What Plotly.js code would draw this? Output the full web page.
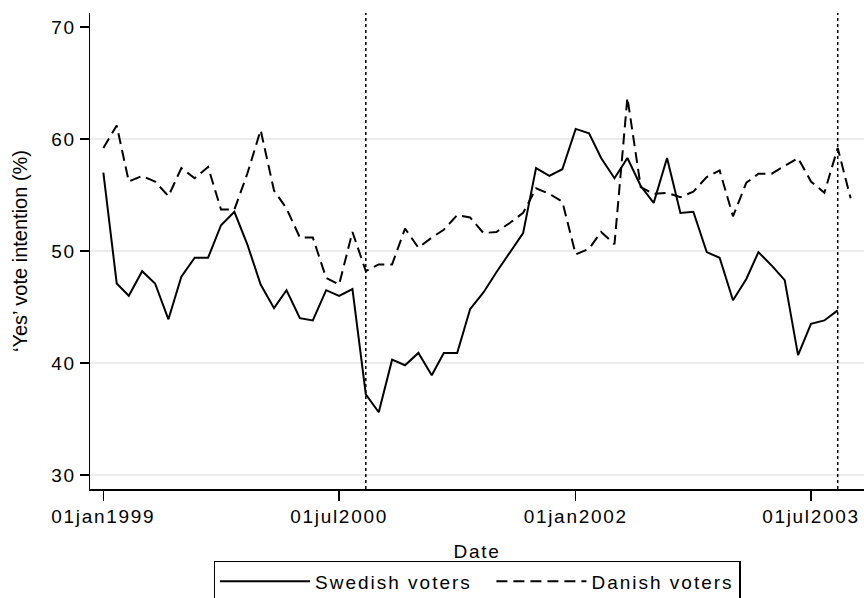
<!DOCTYPE html>
<html><head><meta charset="utf-8">
<script src="https://cdn.plot.ly/plotly-3.0.1.min.js"></script>
<style>
html,body{margin:0;padding:0;background:#fff;}
.xtick text, .ytick text, .xtitle { letter-spacing: 1.7px; }
.legendtext { letter-spacing: 2px; }
</style>
</head><body><div id="chart" style="width:864px;height:598px;"></div>
<script>
const months = [
 "1999-01-01","1999-02-01","1999-03-01","1999-04-01","1999-05-01","1999-06-01","1999-07-01","1999-08-01","1999-09-01","1999-10-01","1999-11-01","1999-12-01",
 "2000-01-01","2000-02-01","2000-03-01","2000-04-01","2000-05-01","2000-06-01","2000-07-01","2000-08-01","2000-09-01","2000-10-01","2000-11-01","2000-12-01",
 "2001-01-01","2001-02-01","2001-03-01","2001-04-01","2001-05-01","2001-06-01","2001-07-01","2001-08-01","2001-09-01","2001-10-01","2001-11-01","2001-12-01",
 "2002-01-01","2002-02-01","2002-03-01","2002-04-01","2002-05-01","2002-06-01","2002-07-01","2002-08-01","2002-09-01","2002-10-01","2002-11-01","2002-12-01",
 "2003-01-01","2003-02-01","2003-03-01","2003-04-01","2003-05-01","2003-06-01","2003-07-01","2003-08-01","2003-09-01","2003-10-01"
];
const swedish = [
 57.0, 47.1, 46.0, 48.2, 47.1, 43.9, 47.7, 49.4, 49.4, 52.3, 53.5, 50.6,
 47.0, 44.9, 46.5, 44.0, 43.8, 46.5, 46.0, 46.6, 37.2, 35.6, 40.3, 39.8,
 40.9, 38.9, 40.9, 40.9, 44.8, 46.3, 48.1, 49.9, 51.6, 57.4, 56.7, 57.3,
 60.9, 60.5, 58.3, 56.5, 58.3, 55.8, 54.3, 58.3, 53.4, 53.5, 49.9, 49.4,
 45.6, 47.5, 49.9, 48.7, 47.4, 40.7, 43.5, 43.8, 44.7
];
const danish = [
 59.2, 61.2, 56.2, 56.7, 56.2, 54.9, 57.4, 56.5, 57.5, 53.7, 53.7, 56.9,
 60.8, 55.4, 53.8, 51.2, 51.2, 47.6, 47.0, 51.7, 48.2, 48.8, 48.8, 52.0,
 50.3, 51.2, 51.9, 53.2, 53.0, 51.6, 51.7, 52.5, 53.4, 55.6, 55.1, 54.4,
 49.7, 50.2, 51.7, 50.6, 63.7, 55.7, 55.1, 55.2, 54.8, 55.3, 56.6, 57.2,
 53.1, 56.1, 56.9, 56.9, 57.6, 58.3, 56.2, 55.2, 59.2, 54.7
];
const seriesNames = ["Swedish voters", "Danish voters"];
const referendumDates = ["2000-09-01", "2003-09-01"];
const xTickVals = ["1999-01-01", "2000-07-01", "2002-01-01", "2003-07-01"];
const xTickText = ["01jan1999", "01jul2000", "01jan2002", "01jul2003"];
const yTickVals = [30, 40, 50, 60, 70];
const gridVals = [30, 40, 50, 60];

const font = "Liberation Sans, Arial, sans-serif";
const fs = 19;

const traces = [
  {x: months.slice(0, swedish.length), y: swedish, type: "scatter", mode: "lines",
   name: seriesNames[0] + "\u00a0\u00a0",
   line: {color: "#000", width: 2, dash: "solid"}},
  {x: months.slice(0, danish.length), y: danish, type: "scatter", mode: "lines", name: seriesNames[1],
   line: {color: "#000", width: 2, dash: "11px,6px"}}
];

const shapes = [];
gridVals.forEach(v => shapes.push({type: "line", xref: "paper", x0: 0, x1: 1, yref: "y", y0: v, y1: v,
  line: {color: "#e6e6e6", width: 1.5}, layer: "below"}));
referendumDates.forEach(d => shapes.push({type: "line", xref: "x", x0: d, x1: d, yref: "paper", y0: 0, y1: 1,
  line: {color: "#000", width: 1.5, dash: "dot"}}));

const layout = {
  width: 864, height: 598,
  margin: {l: 90, r: 0, t: 13, b: 109, autoexpand: false},
  paper_bgcolor: "#fff", plot_bgcolor: "#fff",
  font: {family: font, size: fs, color: "#000"},
  showlegend: true,
  legend: {orientation: "h", x: 0.5, xanchor: "center", y: -0.151, yanchor: "top",
    bordercolor: "#000", borderwidth: 1.5, bgcolor: "#fff", itemwidth: 90,
    font: {family: font, size: fs, color: "#000"}},
  xaxis: {type: "date", range: ["1998-12-01", "2003-11-01"], tickvals: xTickVals, ticktext: xTickText,
    showgrid: false, zeroline: false, showline: true, linecolor: "#000", linewidth: 1.5,
    ticks: "outside", ticklen: 10, tickwidth: 1.5, tickcolor: "#000", automargin: false,
    tickfont: {family: font, size: fs, color: "#000"},
    title: {text: "Date", font: {family: font, size: fs, color: "#000"}, standoff: 18}},
  yaxis: {range: [28.75, 71.25], tickvals: yTickVals, showgrid: false, zeroline: false,
    showline: true, linecolor: "#000", linewidth: 1.5, automargin: false,
    ticks: "outside", ticklen: 9, tickwidth: 1.5, tickcolor: "#000",
    tickfont: {family: font, size: fs, color: "#000"},
    title: {text: "\u2018Yes\u2019 vote intention (%)", font: {family: font, size: 20, color: "#000"}, standoff: 18}},
  shapes: shapes
};

Plotly.newPlot("chart", traces, layout, {displayModeBar: false, staticPlot: true});
</script>
</body></html>
